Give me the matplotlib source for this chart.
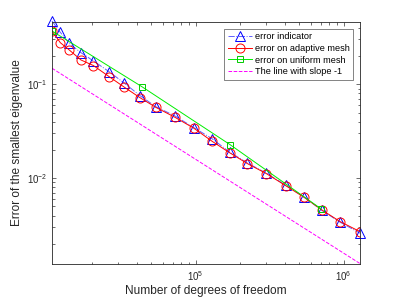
import numpy as np
import matplotlib
matplotlib.use("Agg")
from matplotlib import pyplot as plt
from matplotlib.ticker import LogLocator, NullFormatter

plt.rcParams['font.family'] = ['Liberation Sans', 'DejaVu Sans']

# degrees of freedom (adaptive refinement)
dof_adapt = [10740, 12220, 14030, 16830, 20460, 26100, 33100, 42200, 53800, 72600,
             97500, 128900, 169500, 224000, 300600, 405500, 538000, 711000, 946000, 1288000]
err_indicator = [0.471, 0.357, 0.273, 0.217, 0.177, 0.136, 0.1025, 0.0756, 0.0578, 0.0460,
                 0.0345, 0.0264, 0.0190, 0.0145, 0.0113, 0.00845, 0.00635, 0.00455, 0.0034, 0.0026]
err_adapt = [0.369, 0.277, 0.232, 0.1815, 0.158, 0.1205, 0.0929, 0.0719, 0.0569, 0.0445,
             0.0340, 0.0248, 0.0187, 0.01429, 0.01119, 0.00834, 0.00628, 0.00460, 0.00345, 0.00270]
# uniform refinement
dof_unif = [10740, 43400, 171000, 705000]
err_unif = [0.369, 0.0943, 0.02275, 0.00471]
# reference line with slope -1
ref_const = 1590.0

fig = plt.figure(figsize=(3.98, 2.99), dpi=100)
ax = fig.add_axes([0.1307, 0.117, 0.7738, 0.8094])

dof = np.array(dof_adapt, dtype=float)
ax.loglog(dof_adapt, err_indicator, '-.', color='#6060ff', lw=0.7,
          marker='^', mec='#0000ff', mfc='none', ms=6.5, mew=0.7,
          label='error indicator', clip_on=False)
ax.loglog(dof_adapt, err_adapt, '-', color='#ff0000', lw=0.7,
          marker='o', mec='#ff0000', mfc='none', ms=6.5, mew=0.7,
          label='error on adaptive mesh')
ax.loglog(dof_unif, err_unif, '-', color='#00ee00', lw=0.7,
          marker='s', mec='#00cc00', mfc='none', ms=4.5, mew=0.7,
          label='error on uniform mesh')
ax.loglog(dof, ref_const / dof, '--', color='#ff00ff', lw=0.7,
          label='The line with slope -1')

ax.set_xlim(10740, 1288000)
ax.set_ylim(0.00122, 0.46)

ax.xaxis.set_major_locator(LogLocator(base=10, numticks=10))
ax.yaxis.set_major_locator(LogLocator(base=10, numticks=10))
ax.xaxis.set_minor_locator(LogLocator(base=10, subs=np.arange(2, 10), numticks=20))
ax.yaxis.set_minor_locator(LogLocator(base=10, subs=np.arange(2, 10), numticks=20))
ax.xaxis.set_minor_formatter(NullFormatter())
ax.yaxis.set_minor_formatter(NullFormatter())
ax.tick_params(which='both', direction='in', top=True, right=True,
               labelsize=7, color='#333333', width=0.5, labelcolor='#262626')
ax.tick_params(which='major', length=3)
ax.tick_params(which='minor', length=1.8)
for s in ax.spines.values():
    s.set_linewidth(0.6)
    s.set_color('#262626')

ax.set_xlabel('Number of degrees of freedom', fontsize=8.6, color='#262626', labelpad=2)
ax.set_ylabel('Error of the smallest eigenvalue', fontsize=8.6, color='#262626', labelpad=3)

leg = ax.legend(loc='upper right', fontsize=6.6, frameon=True, fancybox=False,
                edgecolor='#262626', handlelength=2.7, borderpad=0.35,
                labelspacing=0.3, handletextpad=0.3, borderaxespad=0.75)
leg.get_frame().set_linewidth(0.5)

fig.savefig('out.png', dpi=100)
